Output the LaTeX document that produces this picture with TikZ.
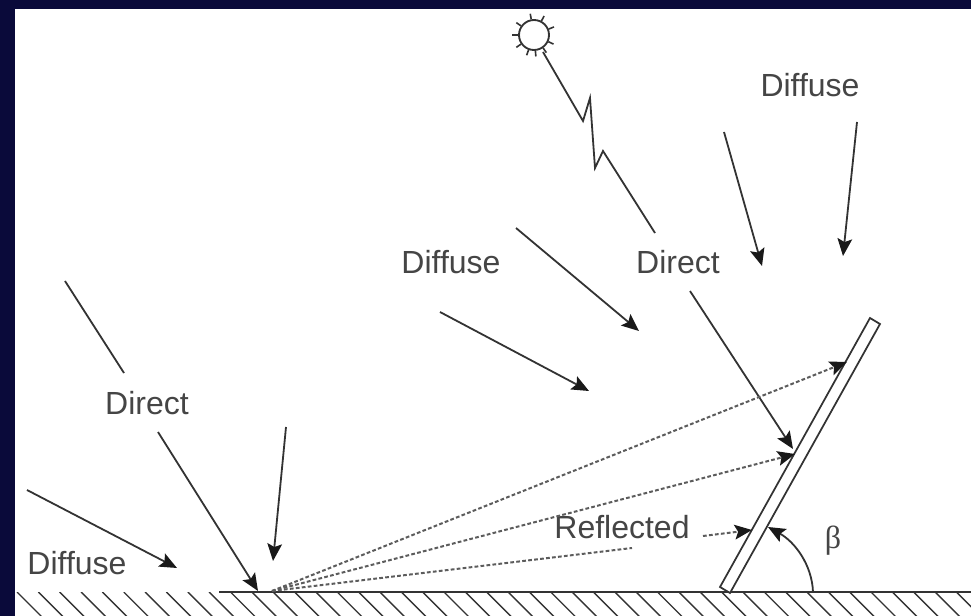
\documentclass[tikz,border=0pt]{standalone}
\usepackage{fontspec}
\setmainfont{Liberation Sans}
\newfontfamily\greekserif{Liberation Serif}
\usetikzlibrary{arrows.meta}
\definecolor{frameblue}{HTML}{0A0A3A}
\definecolor{ink}{HTML}{333333}
\definecolor{labelink}{HTML}{454545}
\tikzset{
  tiphead/.tip={Stealth[length=13pt,width=11pt,inset=2.5pt,color=black!90]},
  ray/.style={draw=ink,line width=1.35pt},
  arrowray/.style={ray,-tiphead},
  dotray/.style={draw=ink!80,line width=1.5pt,dash pattern=on 2.8pt off 1.7pt},
  dotarrow/.style={dotray,-tiphead},
  lbl/.style={text=labelink,font=\fontsize{24}{28}\selectfont,inner sep=0pt},
  hatch/.style={draw=ink,line width=1.05pt},
}
\begin{document}
\begin{tikzpicture}[x=0.75pt,y=-0.75pt]
\useasboundingbox (0,0) rectangle (971,616);
\fill[frameblue] (0,0) rectangle (971,616);
\fill[white] (15,9) rectangle (971,616);
% hatching
\begin{scope}
\clip (15,592) rectangle (971,616);
\foreach \i in {0,...,45} {
  \draw[hatch] ({17+21.35*\i},592) -- ++(26,26);
}
\end{scope}
% ground
\coordinate (g0) at (219,592);
\coordinate (g1) at (971,592);
\draw[draw=ink,line width=1.4pt] (g0) -- (g1);
% panel
\draw[draw=ink,line width=1.3pt,fill=white] (870,318) -- (880,324) -- (730,593) -- (720,587) -- cycle;
% sun
\node[circle,draw=ink,line width=1.4pt,minimum size=22.5pt,inner sep=0pt] (sun) at (534,35) {};
\foreach \a in {22,62,100,145,180,215,250,275,305,335} {
  \draw[ink,line width=1.2pt] (sun.\a) -- ++({\a}:4.2pt);
}
% labels
\node[lbl] (d1) at (810,85) {Diffuse};
\node[lbl] (dir1) at (678,262) {Direct};
\node[lbl] (d2) at (451,262) {Diffuse};
\node[lbl] (dir2) at (147,403) {Direct};
\node[lbl] (d3) at (77,563) {Diffuse};
\node[lbl] (refl) at (622,527) {Reflected};
\node[lbl,font=\greekserif\fontsize{24}{28}\selectfont] (beta) at (833,541) {β};
% coordinates
\coordinate (zs) at (543,52);
\coordinate (z1) at (583,121);
\coordinate (z2) at (590,98);
\coordinate (z3) at (595,168);
\coordinate (z4) at (603,151);
\coordinate (z5) at (655,233);
\coordinate (a1) at (690,291);  \coordinate (a2) at (793,449);
\coordinate (b1) at (857,122);  \coordinate (b2) at (843,256);
\coordinate (c1) at (724,132);  \coordinate (c2) at (762,266);
\coordinate (e1) at (516,228);  \coordinate (e2) at (639,331);
\coordinate (f1) at (440,312);  \coordinate (f2) at (589,391);
\coordinate (h1) at (65,281);   \coordinate (h2) at (124,373);
\coordinate (h3) at (158,432);  \coordinate (h4) at (258,591);
\coordinate (i1) at (286,427);  \coordinate (i2) at (273,561);
\coordinate (j1) at (27,490);   \coordinate (j2) at (177,568);
\coordinate (o) at (272,591);
\coordinate (k1) at (847,362);
\coordinate (k2) at (795,454);
\coordinate (k3) at (632,548);
\coordinate (l1) at (703,536);  \coordinate (l2) at (752,530);
\coordinate (m1) at (813,592);  \coordinate (m2) at (768,527);
% connectors
\draw[ray,line join=miter] (zs) -- (z1) -- (z2) -- (z3) -- (z4) -- (z5);
\draw[arrowray] (a1) -- (a2);
\draw[arrowray] (b1) -- (b2);
\draw[arrowray] (c1) -- (c2);
\draw[arrowray] (e1) -- (e2);
\draw[arrowray] (f1) -- (f2);
\draw[ray] (h1) -- (h2);
\draw[arrowray] (h3) -- (h4);
\draw[arrowray] (i1) -- (i2);
\draw[arrowray] (j1) -- (j2);
\draw[dotarrow] (o) -- (k1);
\draw[dotarrow] (o) -- (k2);
\draw[dotray] (o) -- (k3);
\draw[dotarrow] (l1) -- (l2);
\draw[arrowray] (m1) .. controls (812,565) and (795,542) .. (m2);
\end{tikzpicture}
\end{document}
